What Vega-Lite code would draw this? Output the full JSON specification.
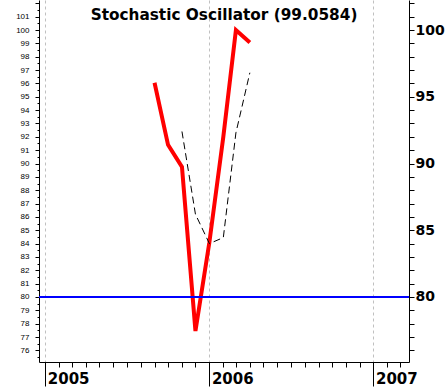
{
  "$schema": "https://vega.github.io/schema/vega-lite/v6.json",
  "width": 370,
  "height": 362,
  "autosize": "none",
  "padding": {"left": 39, "top": 0, "right": 38, "bottom": 25},
  "background": "white",
  "config": {
    "view": {"stroke": null},
    "axis": {"domainColor": "black", "tickColor": "black", "domainWidth": 1, "tickWidth": 1, "labelColor": "black", "title": null}
  },
  "title": {
    "text": "Stochastic Oscillator (99.0584)",
    "font": "DejaVu Sans",
    "fontSize": 15.3,
    "fontWeight": "bold",
    "color": "black",
    "anchor": "middle",
    "offset": -27
  },
  "datasets": {
    "pk": [
      {"date": "2005-09-01", "k": 96.05},
      {"date": "2005-10-01", "k": 91.4},
      {"date": "2005-11-01", "k": 89.75},
      {"date": "2005-12-01", "k": 77.45},
      {"date": "2006-01-01", "k": 84.1},
      {"date": "2006-02-01", "k": 92.0},
      {"date": "2006-03-01", "k": 100.0},
      {"date": "2006-04-01", "k": 99.06}
    ],
    "pd": [
      {"date": "2005-11-01", "d": 92.4},
      {"date": "2005-12-01", "d": 86.2},
      {"date": "2006-01-01", "d": 84.0},
      {"date": "2006-02-01", "d": 84.45},
      {"date": "2006-03-01", "d": 92.3},
      {"date": "2006-04-01", "d": 96.8}
    ],
    "lvl": [{"level": 80}]
  },
  "layer": [
    {
      "data": {"name": "pk"},
      "mark": {"type": "line", "color": "#ff0000", "strokeWidth": 4},
      "encoding": {
        "x": {
          "field": "date", "type": "temporal",
          "scale": {"type": "utc", "domain": [{"year": 2004, "month": 12, "date": 18, "utc": true}, {"year": 2007, "month": 3, "date": 21, "utc": true}], "nice": false},
          "axis": {
            "orient": "bottom",
            "values": [{"year": 2005, "month": 1, "date": 1, "utc": true}, {"year": 2006, "month": 1, "date": 1, "utc": true}, {"year": 2007, "month": 1, "date": 1, "utc": true}],
            "format": "%Y",
            "tickSize": 24,
            "labelAlign": "left",
            "labelBaseline": "alphabetic",
            "labelOffset": 2,
            "labelPadding": -3,
            "labelFont": "DejaVu Sans",
            "labelFontSize": 15,
            "labelFontWeight": "bold",
            "labelFlush": false,
            "labelOverlap": false,
            "grid": true,
            "gridColor": "#c0c0c0",
            "gridDash": [3, 3],
            "gridWidth": 1,
            "zindex": 0
          }
        },
        "y": {
          "field": "k", "type": "quantitative",
          "scale": {"domain": [75.13, 102.25], "nice": false, "zero": false},
          "axis": {
            "orient": "left",
            "values": [76,77,78,79,80,81,82,83,84,85,86,87,88,89,90,91,92,93,94,95,96,97,98,99,100,101,102],
            "labelExpr": "datum.value == 102 ? '' : datum.label",
            "tickSize": 4,
            "labelFont": "Liberation Sans",
            "labelFontSize": 8,
            "labelPadding": 6,
            "labelOverlap": false,
            "grid": false
          }
        }
      }
    },
    {
      "data": {"name": "pd"},
      "mark": {"type": "line", "color": "black", "strokeWidth": 1, "strokeDash": [7, 4]},
      "encoding": {
        "x": {
          "field": "date", "type": "temporal",
          "scale": {"type": "utc", "domain": [{"year": 2004, "month": 12, "date": 18, "utc": true}, {"year": 2007, "month": 3, "date": 21, "utc": true}], "nice": false},
          "axis": {
            "orient": "bottom",
            "tickCount": {"interval": "month", "step": 1},
            "tickSize": 5,
            "labels": false,
            "domain": false,
            "grid": false
          }
        },
        "y": {
          "field": "d", "type": "quantitative",
          "scale": {"domain": [75.13, 102.25], "nice": false, "zero": false},
          "axis": {
            "orient": "right",
            "values": [76,77,78,79,80,81,82,83,84,85,86,87,88,89,90,91,92,93,94,95,96,97,98,99,100,101,102],
            "labelExpr": "datum.value % 5 == 0 ? datum.label : ''",
            "tickSize": 5,
            "labelFont": "DejaVu Sans",
            "labelFontSize": 14,
            "labelFontWeight": "bold",
            "labelPadding": 1,
            "labelOverlap": false,
            "grid": false
          }
        }
      }
    },
    {
      "data": {"name": "lvl"},
      "mark": {"type": "rule", "color": "#0000ff", "strokeWidth": 2},
      "encoding": {
        "y": {
          "field": "level", "type": "quantitative",
          "scale": {"domain": [75.13, 102.25], "nice": false, "zero": false},
          "axis": {
            "orient": "left",
            "values": [75.5,76.5,77.5,78.5,79.5,80.5,81.5,82.5,83.5,84.5,85.5,86.5,87.5,88.5,89.5,90.5,91.5,92.5,93.5,94.5,95.5,96.5,97.5,98.5,99.5,100.5,101.5],
            "tickSize": 2,
            "labels": false,
            "domain": false,
            "grid": false
          }
        }
      }
    }
  ],
  "resolve": {"axis": {"x": "independent", "y": "independent"}}
}
